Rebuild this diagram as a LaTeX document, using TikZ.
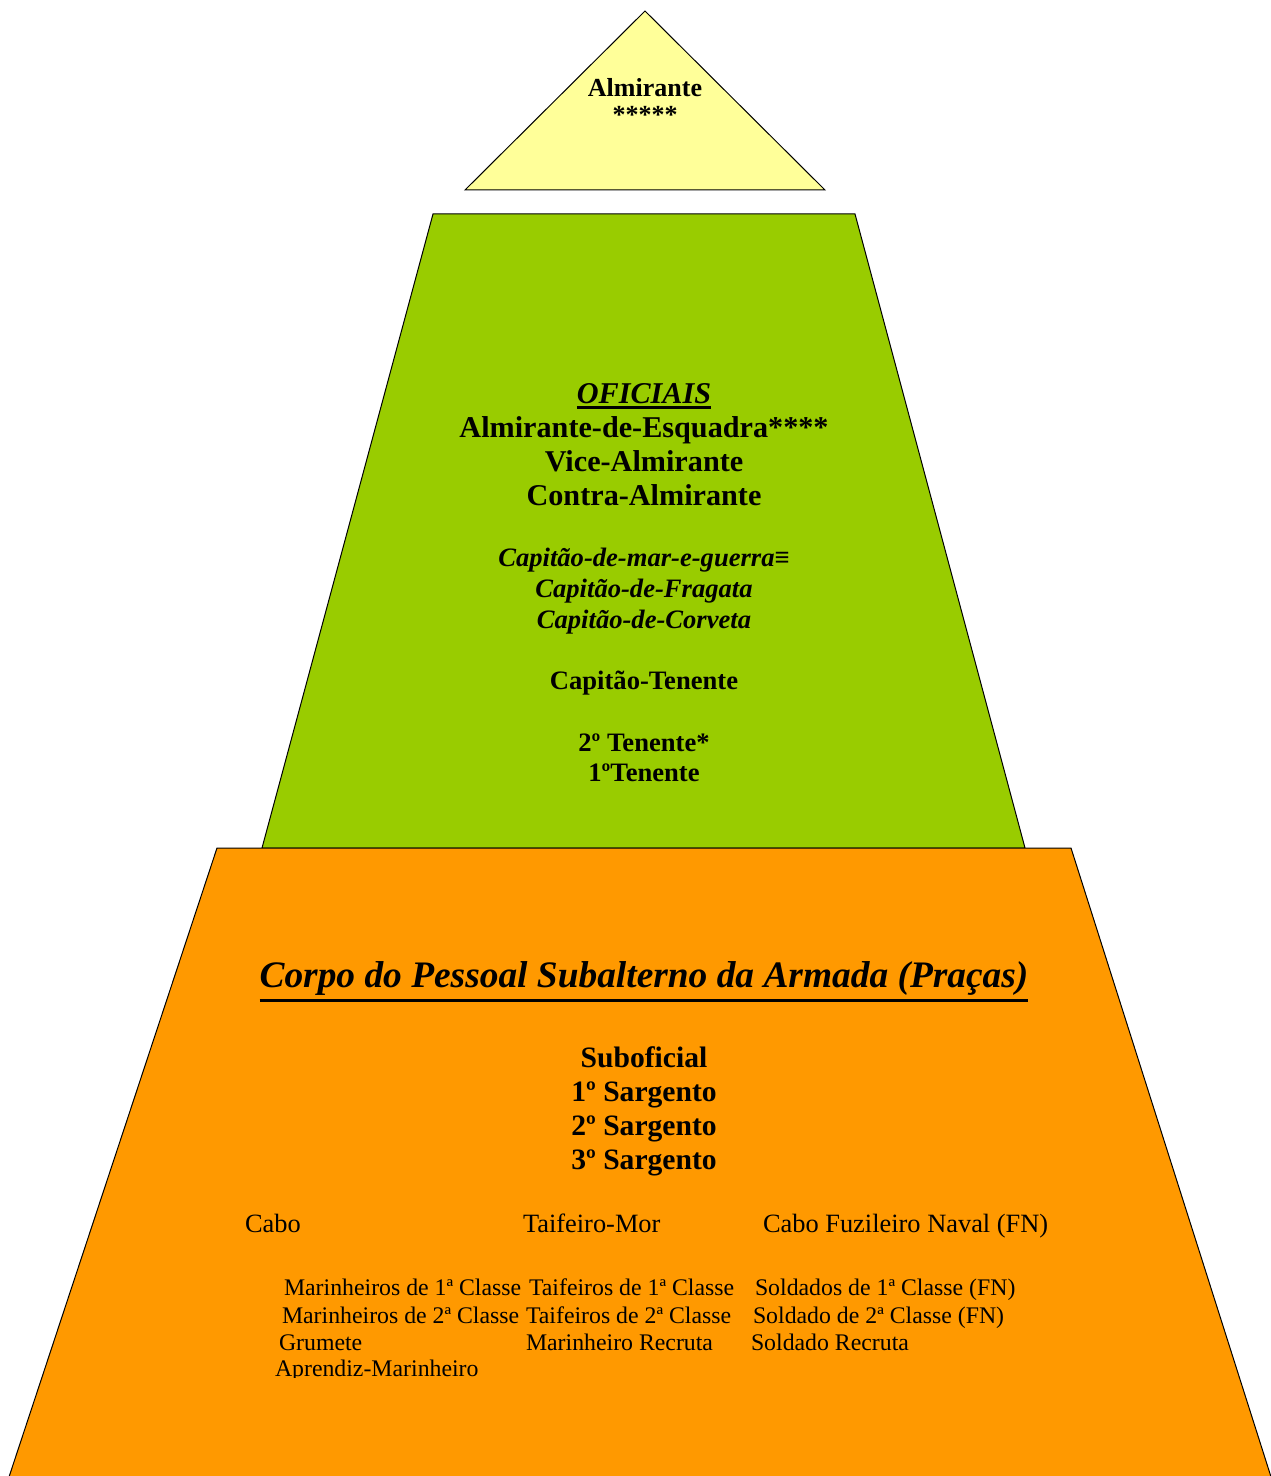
\documentclass[tikz,border=0pt]{standalone}
\usepackage{fontspec}
\setmainfont{Liberation Serif}
\definecolor{topyellow}{HTML}{FFFF99}
\definecolor{midgreen}{HTML}{99CC00}
\definecolor{lowvorange}{HTML}{FF9900}
\newcommand{\ulthick}[3]{\leavevmode\vtop{\hbox{#3}\kern#1\hrule height #2}}
\begin{document}
\begin{tikzpicture}[x=0.5pt,y=-0.5pt,
  tier/.style={draw=black,line width=0.5pt},
  lbl/.style={inner sep=0pt,outer sep=0pt,anchor=base},
  lblw/.style={inner sep=0pt,outer sep=0pt,anchor=base west},
  topf/.style={font=\fontsize{13}{15}\selectfont\bfseries},
  offf/.style={font=\fontsize{15.1}{18}\selectfont\bfseries},
  itf/.style={font=\fontsize{13.3}{15}\selectfont\bfseries\itshape},
  ctf/.style={font=\fontsize{13.3}{15}\selectfont\bfseries},
  corpf/.style={font=\fontsize{18.7}{21}\selectfont\bfseries\itshape},
  sgtf/.style={font=\fontsize{14.8}{17}\selectfont\bfseries},
  cabf/.style={font=\fontsize{13.2}{15}\selectfont},
  rowf/.style={font=\fontsize{11.9}{13}\selectfont}]
\useasboundingbox (0,0) rectangle (1270,1476);
% tiers
\draw[tier,fill=topyellow] (645,11) -- (825,190) -- (465,190) -- cycle;
\draw[tier,fill=midgreen] (433,214) -- (855,214) -- (1025,848) -- (262,848) -- cycle;
\draw[tier,fill=lowvorange] (217,848) -- (1071,848) -- (1272,1480) -- (8,1480) -- cycle;
% top
\node[lbl,topf] (alm) at (645,97) {Almirante};
\node[lbl,topf] (alms) at (645,124) {*****};
% oficiais
\node[lbl,offf] (ofi) at (644,403) {\ulthick{1.6pt}{1.3pt}{\itshape OFICIAIS}};
\node[lbl,offf] (ae) at (644,437) {Almirante-de-Esquadra****};
\node[lbl,offf] (va) at (644,471) {Vice-Almirante};
\node[lbl,offf] (ca) at (644,505) {Contra-Almirante};
\node[lbl,itf] (cmg) at (644,566) {Capitão-de-mar-e-guerra≡};
\node[lbl,itf] (cf) at (644,597) {Capitão-de-Fragata};
\node[lbl,itf] (cc) at (644,628) {Capitão-de-Corveta};
\node[lbl,ctf] (ct) at (644,689) {Capitão-Tenente};
\node[lbl,ctf] (st) at (644,751) {2º Tenente*};
\node[lbl,ctf] (pt) at (644,781) {1ºTenente};
% pracas
\node[lbl,corpf] (corpo) at (644,987) {\ulthick{2pt}{1.4pt}{Corpo do Pessoal Subalterno da Armada (Praças)}};
\node[lbl,sgtf] (sub) at (644,1067) {Suboficial};
\node[lbl,sgtf] (s1) at (644,1101) {1º Sargento};
\node[lbl,sgtf] (s2) at (644,1135) {2º Sargento};
\node[lbl,sgtf] (s3) at (644,1169) {3º Sargento};
\node[lblw,cabf] (cabo) at (245,1232) {Cabo};
\node[lblw,cabf] (tm) at (523,1232) {Taifeiro-Mor};
\node[lblw,cabf] (cfn) at (763,1232) {Cabo Fuzileiro Naval (FN)};
\node[lblw,rowf] (m1) at (284,1295) {Marinheiros de 1ª Classe};
\node[lblw,rowf] (t1) at (529,1295) {Taifeiros de 1ª Classe};
\node[lblw,rowf] (sd1) at (755,1295) {Soldados de 1ª Classe (FN)};
\node[lblw,rowf] (m2) at (282,1323) {Marinheiros de 2ª Classe};
\node[lblw,rowf] (t2) at (526,1323) {Taifeiros de 2ª Classe};
\node[lblw,rowf] (sd2) at (753,1323) {Soldado de 2ª Classe (FN)};
\node[lblw,rowf] (gr) at (279,1350) {Grumete};
\node[lblw,rowf] (mr) at (526,1350) {Marinheiro Recruta};
\node[lblw,rowf] (sr) at (751,1350) {Soldado Recruta};
\begin{scope}
\clip (200,1340) rectangle (700,1377);
\node[lblw,rowf] (am) at (275,1376) {Aprendiz-Marinheiro};
\end{scope}
\end{tikzpicture}
\end{document}
